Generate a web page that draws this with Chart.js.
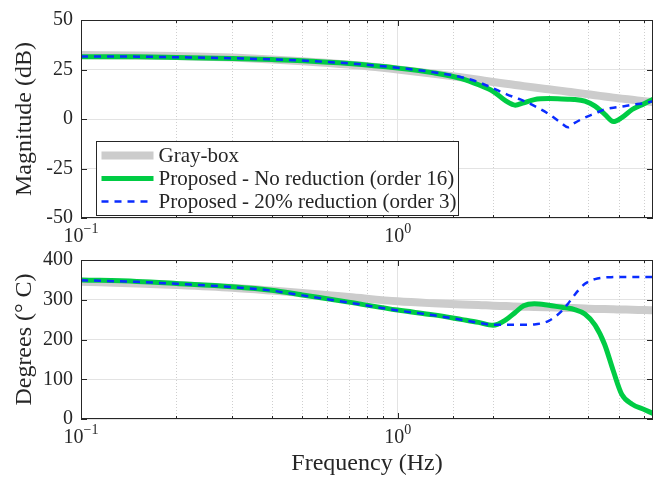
<!DOCTYPE html>
<html>
<head>
<meta charset="utf-8">
<script src="https://cdn.jsdelivr.net/npm/chart.js@4.4.0/dist/chart.umd.min.js"></script>
<style>
    body { margin: 0; background: #fff; width: 654px; height: 482px; overflow: hidden; position: relative; }
    canvas { position: absolute; left: 0; }
    #phaseChart { top: 240px; }
    #magChart { top: 0; }
</style>
</head>
<body>
<canvas id="phaseChart" width="654" height="242"></canvas>
<canvas id="magChart" width="654" height="250"></canvas>
<script>
// Tần số (Hz)
const freq = [0.1, 0.15, 0.2, 0.3, 0.4, 0.5, 0.7, 1.0, 1.3, 1.6, 1.8, 2.0, 2.2, 2.35, 2.5, 2.7, 3.0, 3.3, 3.45, 3.6, 3.9, 4.2, 4.5, 4.8, 5.1, 5.5, 6.0, 6.4];

// Biên độ (dB)
const magGrayBox = [32.3, 32.1, 31.8, 31.0, 30.1, 29.2, 27.5, 25.0, 22.9, 21.0, 19.8, 18.7, 17.8, 17.2, 16.6, 15.9, 15.0, 14.2, 13.8, 13.4, 12.7, 12.0, 11.4, 10.8, 10.3, 9.7, 9.0, 8.5];
const magNoReduction = [31.5, 31.4, 31.1, 30.6, 30.0, 29.4, 28.0, 25.7, 23.3, 20.3, 17.3, 14.0, 9.0, 7.0, 8.2, 9.8, 10.3, 10.1, 10.0, 9.9, 9.0, 6.5, 2.5, -1.3, 0.7, 4.8, 7.7, 10.0];
const magReduced = [31.6, 31.5, 31.2, 30.7, 30.1, 29.5, 28.1, 25.9, 23.6, 21.0, 18.6, 15.5, 12.6, 10.8, 9.2, 6.6, 2.5, -2.3, -4.2, -2.2, 0.7, 2.8, 4.8, 5.7, 6.3, 7.2, 8.0, 9.0];

// Pha (độ)
const phaseGrayBox = [345, 341, 337, 330, 323, 317, 307, 296, 291, 288, 287, 285, 284, 283, 282.5, 282, 281, 280, 279.5, 279, 278, 277, 276.5, 276, 275.5, 275, 274, 273.5];
const phaseNoReduction = [350, 346, 341, 333, 324, 312, 294, 274, 262, 250, 243, 236, 250, 268, 285, 290, 286, 281, 279, 276, 264, 236, 188, 120, 62, 37, 24, 14];
const phaseReduced = [349, 345, 340, 332, 323, 311, 293, 273, 261, 249, 242, 237, 237, 237, 237, 238, 247, 272, 290, 310, 340, 352, 356, 357, 357.5, 357.5, 357.5, 357];

const seriesLabels = ['Gray-box', 'Proposed - No reduction (order 16)', 'Proposed - 20% reduction (order 3)'];
const xTickValues = [0.1, 1];
const xTickExponents = ['\u22121', '0'];

const SERIF = '"Liberation Serif", "DejaVu Serif", serif';
const AXIS_COLOR = '#262626';
const GRID_COLOR = '#e3e3e3';

function isDecade(v) {
    const l = Math.log10(v);
    return Math.abs(l - Math.round(l)) < 1e-6;
}

function makeDatasets(grayVals, greenVals, blueVals) {
    const pts = vals => freq.map((f, i) => ({ x: f, y: vals[i] }));
    return [
        { label: seriesLabels[0], data: pts(grayVals), borderColor: '#cccccc', borderWidth: 8, order: 3 },
        { label: seriesLabels[1], data: pts(greenVals), borderColor: '#00cc44', borderWidth: 5, order: 2 },
        { label: seriesLabels[2], data: pts(blueVals), borderColor: '#0a2cff', borderWidth: 2.5, borderDash: [7, 6], order: 1 }
    ];
}

// Vẽ khung, vạch chia, lưới phụ, nhãn trục x và chú giải kiểu MATLAB
const matlabAxes = {
    id: 'matlabAxes',
    beforeDatasetsDraw(chart) {
        const { ctx, chartArea: a, scales: { x } } = chart;
        ctx.save();
        ctx.strokeStyle = '#cfcfcf';
        ctx.lineWidth = 1;
        ctx.setLineDash([1, 2]);
        x.ticks.forEach(t => {
            if (isDecade(t.value)) return;
            const px = Math.round(x.getPixelForValue(t.value)) + 0.5;
            if (px >= a.right - 1) return;
            ctx.beginPath();
            ctx.moveTo(px, a.top);
            ctx.lineTo(px, a.bottom);
            ctx.stroke();
        });
        ctx.restore();
    },
    afterDatasetsDraw(chart) {
        const { ctx, chartArea: a, scales: { x, y } } = chart;
        ctx.save();
        ctx.strokeStyle = AXIS_COLOR;
        ctx.lineWidth = 1;
        ctx.beginPath();
        x.ticks.forEach(t => {
            const px = Math.round(x.getPixelForValue(t.value)) + 0.5;
            if (px >= a.right - 1) return;
            const len = isDecade(t.value) ? 6 : 3;
            ctx.moveTo(px, a.bottom); ctx.lineTo(px, a.bottom - len);
            ctx.moveTo(px, a.top); ctx.lineTo(px, a.top + len);
        });
        y.ticks.forEach(t => {
            const py = Math.round(y.getPixelForValue(t.value)) + 0.5;
            ctx.moveTo(a.left, py); ctx.lineTo(a.left + 6, py);
            ctx.moveTo(a.right, py); ctx.lineTo(a.right - 6, py);
        });
        ctx.stroke();
        ctx.strokeRect(Math.round(a.left) + 0.5, Math.round(a.top) + 0.5,
            Math.round(a.right - a.left) - 1, Math.round(a.bottom - a.top) - 1);
        ctx.restore();
    },
    afterDraw(chart, args, opts) {
        const { ctx, chartArea: a, scales: { x } } = chart;
        ctx.save();
        ctx.fillStyle = AXIS_COLOR;
        ctx.textBaseline = 'alphabetic';
        xTickValues.forEach((v, i) => {
            const px = x.getPixelForValue(v);
            ctx.font = '20px ' + SERIF;
            const wb = ctx.measureText('10').width;
            ctx.font = '14px ' + SERIF;
            const we = ctx.measureText(xTickExponents[i]).width;
            const x0 = px - (wb + we) / 2;
            ctx.font = '20px ' + SERIF;
            ctx.fillText('10', x0, a.bottom + 24);
            ctx.font = '14px ' + SERIF;
            ctx.fillText(xTickExponents[i], x0 + wb, a.bottom + 15);
        });

        if (opts.legend) {
            const lx = a.left + 15.5, ly = a.top + 121.5, lw = 362, lh = 74;
            ctx.fillStyle = '#fff';
            ctx.fillRect(lx, ly, lw, lh);
            ctx.strokeStyle = AXIS_COLOR;
            ctx.lineWidth = 1;
            ctx.strokeRect(lx, ly, lw, lh);
            ctx.font = '21px ' + SERIF;
            ctx.textBaseline = 'middle';
            chart.data.datasets.forEach((ds, i) => {
                const yy = ly + 14 + i * 23;
                ctx.strokeStyle = ds.borderColor;
                ctx.lineWidth = ds.borderWidth;
                ctx.setLineDash(ds.borderDash || []);
                ctx.beginPath();
                ctx.moveTo(lx + 5, yy);
                ctx.lineTo(lx + 57, yy);
                ctx.stroke();
                ctx.setLineDash([]);
                ctx.fillStyle = AXIS_COLOR;
                ctx.fillText(ds.label, lx + 62, yy + 1);
            });
        }
        ctx.restore();
    }
};

function makeConfig(datasets, yOpts, xHeight, padTop, xTitle, showLegend) {
    return {
        type: 'line',
        data: { datasets: datasets },
        options: {
            responsive: false,
            animation: false,
            events: [],
            layout: { padding: { top: padTop, right: 1, bottom: 0, left: 0 } },
            elements: {
                point: { radius: 0 },
                line: { cubicInterpolationMode: 'monotone', fill: false }
            },
            plugins: {
                legend: { display: false },
                tooltip: { enabled: false },
                matlabAxes: { legend: showLegend }
            },
            scales: {
                x: {
                    type: 'logarithmic',
                    min: 0.1,
                    max: 6.4,
                    afterFit: s => { s.height = xHeight; },
                    border: { display: false },
                    grid: {
                        drawTicks: false,
                        color: c => (c.tick && isDecade(c.tick.value) ? GRID_COLOR : 'rgba(0,0,0,0)')
                    },
                    ticks: { display: false, autoSkip: false },
                    title: {
                        display: !!xTitle,
                        text: xTitle || '',
                        color: AXIS_COLOR,
                        font: { family: SERIF, size: 24 },
                        padding: { top: 0, bottom: 4 }
                    }
                },
                y: {
                    min: yOpts.min,
                    max: yOpts.max,
                    afterFit: s => { s.width = 81; },
                    border: { display: false },
                    grid: { drawTicks: false, color: GRID_COLOR },
                    ticks: {
                        stepSize: yOpts.step,
                        padding: 8,
                        color: AXIS_COLOR,
                        font: { family: SERIF, size: 20 }
                    },
                    title: {
                        display: true,
                        text: yOpts.title,
                        color: AXIS_COLOR,
                        font: { family: SERIF, size: 24 },
                        padding: { top: 10, bottom: 0 }
                    }
                }
            }
        },
        plugins: [matlabAxes]
    };
}

new Chart(document.getElementById('magChart'), makeConfig(
    makeDatasets(magGrayBox, magNoReduction, magReduced),
    { min: -50, max: 50, step: 25, title: 'Magnitude (dB)' },
    32, 18, null, true
));

new Chart(document.getElementById('phaseChart'), makeConfig(
    makeDatasets(phaseGrayBox, phaseNoReduction, phaseReduced),
    { min: 0, max: 400, step: 100, title: 'Degrees (\u00b0 C)' },
    63, 16, 'Frequency (Hz)', false
));
</script>
</body>
</html>
